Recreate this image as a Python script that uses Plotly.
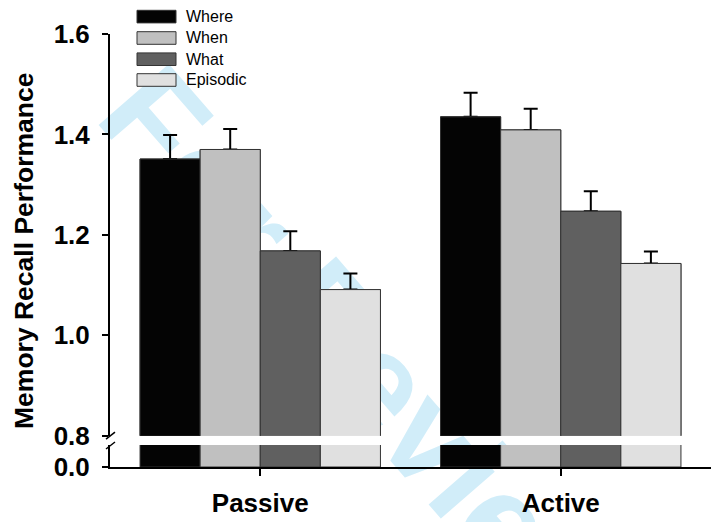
import plotly.graph_objects as go

# ---- data -------------------------------------------------------------
groups = ["Passive", "Active"]
series_names = ["Where", "When", "What", "Episodic"]

where_mean = [1.351, 1.435]
when_mean = [1.370, 1.409]
what_mean = [1.168, 1.247]
episodic_mean = [1.091, 1.143]

where_sem = [0.048, 0.048]
when_sem = [0.041, 0.042]
what_sem = [0.039, 0.040]
episodic_sem = [0.032, 0.024]

upper_ticks = [0.8, 1.0, 1.2, 1.4, 1.6]
lower_ticks = [0.0]

means = [where_mean, when_mean, what_mean, episodic_mean]
sems = [where_sem, when_sem, what_sem, episodic_sem]
fills = ["#040404", "#c0c0c0", "#606060", "#e0e0e0"]

# ---- page geometry ----------------------------------------------------
W, H = 711, 522
ML, MR, MT, MB = 110, 0, 34, 55
PW, PH = W - ML - MR, H - MT - MB


def fx(px):
    return (px - ML) / PW


def fy(py):
    return (H - MB - py) / PH


BREAK_TOP = 435.7   # pixel row of 0.8 on the upper axis
BREAK_BOT = 445.0   # top of the short lower axis segment

FONT = "Liberation Sans, Arial, Helvetica, sans-serif"
EDGE = "#333333"

fig = go.Figure()


def bar(name, m, c, yaxis, err=None):
    kw = {}
    if err is not None:
        kw["error_y"] = dict(type="data", array=err, arrayminus=[0] * len(err),
                             symmetric=False, color="black", thickness=2, width=7)
    return go.Bar(
        x=groups, y=m, name=name, offsetgroup=name,
        marker=dict(color=c, line=dict(color=EDGE, width=1)),
        xaxis="x", yaxis=yaxis, showlegend=False, **kw,
    )


# upper panel: bars carrying the SEM whiskers, then the same bars again on
# top so only the whisker above each bar stays visible
for name, m, s, c in zip(series_names, means, sems, fills):
    fig.add_trace(bar(name, m, c, "y2", err=s))
for name, m, c in zip(series_names, means, fills):
    fig.add_trace(bar(name, m, c, "y2"))
# lower stub panel down to zero
for name, m, c in zip(series_names, means, fills):
    fig.add_trace(bar(name, m, c, "y"))

axis_font = dict(family=FONT, size=26, color="black", weight="bold")
common_axis = dict(
    showline=True, linecolor="black", linewidth=2,
    ticks="outside", tickwidth=2, tickcolor="black",
    tickfont=axis_font, showgrid=False, zeroline=False, automargin=False,
)

fig.update_layout(
    width=W, height=H,
    margin=dict(l=ML, r=MR, t=MT, b=MB, autoexpand=False),
    paper_bgcolor="white",
    plot_bgcolor="rgba(0,0,0,0)",
    barmode="group", bargap=0.2, bargroupgap=0,
    showlegend=False,
    xaxis=dict(domain=[0, 1], range=[-0.5, 1.5], anchor="y",
               ticklen=7, ticklabelstandoff=5, **common_axis),
    yaxis=dict(domain=[0, fy(BREAK_BOT)], range=[0, 0.1], anchor="x",
               tickvals=lower_ticks, ticktext=[f"{v:.1f}" for v in lower_ticks],
               ticklen=6, ticklabelstandoff=7, **common_axis),
    yaxis2=dict(domain=[fy(BREAK_TOP), 1], range=[0.8, 1.6], anchor="x",
                tickvals=upper_ticks, ticktext=[f"{v:.1f}" for v in upper_ticks],
                ticklen=6, ticklabelstandoff=7, **common_axis),
)

shapes = []
annotations = []

# faint diagonal review watermark, kept behind the bars
shapes.append(dict(
    type="rect", xref="paper", yref="paper",
    x0=fx(369), x1=fx(379), y0=fy(356), y1=fy(346),
    line=dict(width=0), fillcolor="rgba(0,0,0,0)", layer="below",
    label=dict(text="For Review", textangle=49, textposition="middle center",
               font=dict(family=FONT, size=135, color="#d1edf9", weight="bold")),
))

# axis-break slashes
for yc in (BREAK_TOP, BREAK_BOT + 0.5):
    shapes.append(dict(
        type="line", xref="paper", yref="paper",
        x0=fx(106), y0=fy(yc + 3.5), x1=fx(115), y1=fy(yc - 3.5),
        line=dict(color="black", width=1.5),
    ))

# legend: wide swatches with labels
row_centers = [16.6, 38.0, 59.2, 80.0]
for name, c, yc in zip(series_names, fills, row_centers):
    shapes.append(dict(
        type="rect", xref="paper", yref="paper",
        x0=fx(137), x1=fx(176), y0=fy(yc + 6.3), y1=fy(yc - 6.3),
        fillcolor=c, line=dict(color=EDGE, width=1),
    ))
    annotations.append(dict(
        x=fx(184), y=fy(yc), xref="paper", yref="paper",
        text=name, showarrow=False, xanchor="left", yanchor="middle",
        font=dict(family=FONT, size=16, color="black"),
    ))

# y-axis title spanning both panels
annotations.append(dict(
    x=fx(24), y=fy(251), xref="paper", yref="paper",
    text="Memory Recall Performance", showarrow=False, textangle=-90,
    xanchor="center", yanchor="middle",
    font=dict(family=FONT, size=26.5, color="black", weight="bold"),
))

fig.update_layout(shapes=shapes, annotations=annotations)

fig.write_html("out.html")
